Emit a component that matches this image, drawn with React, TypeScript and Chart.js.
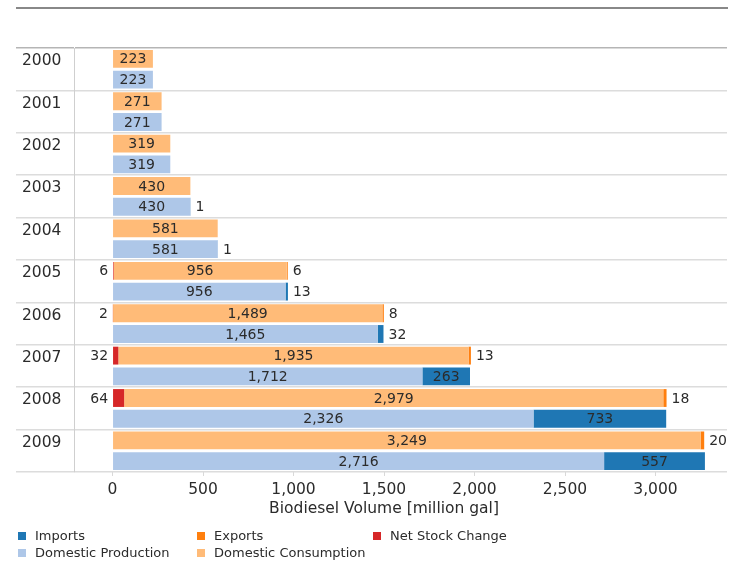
import React, { useEffect, useRef } from "react";
import { Chart, registerables } from "chart.js";

Chart.register(...registerables);

// ---- Data ----
const years = ["2000", "2001", "2002", "2003", "2004", "2005", "2006", "2007", "2008", "2009"];
const netStockChange = [null, null, null, null, null, 6, 2, 32, 64, null];
const domesticConsumption = [223, 271, 319, 430, 581, 956, 1489, 1935, 2979, 3249];
const exportsVol = [null, null, null, null, null, 6, 8, 13, 18, 20];
const domesticProduction = [223, 271, 319, 430, 581, 956, 1465, 1712, 2326, 2716];
const importsVol = [null, null, null, 1, 1, 13, 32, 263, 733, 557];
const xTickValues = [0, 500, 1000, 1500, 2000, 2500, 3000];
const xMin = -213;
const xMax = 3395;
const axisTitle = "Biodiesel Volume [million gal]";

const COLORS = {
  imports: "#1f77b4",
  exports: "#ff7f0e",
  net: "#d62728",
  production: "#aec7e8",
  consumption: "#ffbb78",
};

const legendRows = [
  [
    { label: "Imports", color: COLORS.imports },
    { label: "Exports", color: COLORS.exports },
    { label: "Net Stock Change", color: COLORS.net },
  ],
  [
    { label: "Domestic Production", color: COLORS.production },
    { label: "Domestic Consumption", color: COLORS.consumption },
  ],
];
const legendColX = [18, 197, 373];
const legendRowY = [532, 549];

const FONT = '"DejaVu Sans", Verdana, sans-serif';
const TEXT = "#2b2b2b";

const labelPlugin = {
  id: "barLabels",
  afterDatasetsDraw(chart: any) {
    const ctx = chart.ctx;
    ctx.save();
    ctx.font = `14px ${FONT}`;
    ctx.fillStyle = TEXT;
    ctx.textBaseline = "middle";
    chart.data.datasets.forEach((ds: any, di: number) => {
      const meta = chart.getDatasetMeta(di);
      meta.data.forEach((el: any, i: number) => {
        const v = ds.data[i];
        if (v == null || v === 0) return;
        const p = el.getProps(["x", "base", "y"], true);
        const left = Math.min(p.x, p.base);
        const right = Math.max(p.x, p.base);
        const txt = Number(v).toLocaleString("en-US");
        const w = ctx.measureText(txt).width;
        if (ds.labelMode === "left") {
          ctx.textAlign = "right";
          ctx.fillText(txt, left - 5, p.y + 1);
        } else if (right - left >= w + 6) {
          ctx.textAlign = "center";
          ctx.fillText(txt, (left + right) / 2, p.y + 1);
        } else {
          ctx.textAlign = "left";
          ctx.fillText(txt, right + 5, p.y + 1);
        }
      });
    });
    // axis title centred under the tick range
    const xs = chart.scales.x;
    const cx = (xs.getPixelForValue(xTickValues[0]) + xs.getPixelForValue(xTickValues[xTickValues.length - 1])) / 2;
    ctx.font = `15.5px ${FONT}`;
    ctx.textAlign = "center";
    ctx.fillText(axisTitle, cx, 509);
    ctx.restore();
  },
};

export default function App() {
  const canvasRef = useRef<HTMLCanvasElement | null>(null);

  useEffect(() => {
    if (!canvasRef.current) return;
    const chart = new Chart(canvasRef.current, {
      type: "bar",
      data: {
        labels: years,
        datasets: [
          { label: "Net Stock Change", data: netStockChange, backgroundColor: COLORS.net, stack: "use", labelMode: "left" } as any,
          { label: "Domestic Consumption", data: domesticConsumption, backgroundColor: COLORS.consumption, stack: "use" },
          { label: "Exports", data: exportsVol, backgroundColor: COLORS.exports, stack: "use" },
          { label: "Domestic Production", data: domesticProduction, backgroundColor: COLORS.production, stack: "supply" },
          { label: "Imports", data: importsVol, backgroundColor: COLORS.imports, stack: "supply" },
        ],
      },
      options: {
        indexAxis: "y",
        responsive: false,
        animation: false,
        layout: { padding: { left: 22, right: 14, top: 48, bottom: 41 } },
        datasets: {
          bar: { categoryPercentage: 0.98, barPercentage: 0.86, borderWidth: 0 },
        },
        plugins: {
          legend: { display: false },
          tooltip: { enabled: false },
          title: { display: false },
        },
        scales: {
          x: {
            type: "linear",
            stacked: true,
            min: xMin,
            max: xMax,
            afterBuildTicks(scale: any) {
              scale.ticks = xTickValues.map((v) => ({ value: v }));
            },
            afterFit(scale: any) {
              scale.height = 50;
            },
            grid: {
              drawOnChartArea: false,
              drawTicks: true,
              tickLength: 4,
              color: "#d9d9d9",
            },
            border: { display: false },
            ticks: {
              padding: 5,
              color: TEXT,
              font: { family: FONT, size: 15.5 },
              maxRotation: 0,
              callback: (v: any) => Number(v).toLocaleString("en-US"),
            },
          },
          y: {
            type: "category",
            stacked: true,
            afterFit(scale: any) {
              scale.width = 52;
            },
            grid: {
              offset: true,
              drawTicks: true,
              tickLength: 58,
              color: (c: any) => (c.index === 0 ? "#b5b5b5" : "#dcdcdc"),
              lineWidth: 1.5,
            },
            border: { display: true, color: "#cfcfcf", width: 1 },
            ticks: {
              crossAlign: "far",
              labelOffset: -8,
              color: TEXT,
              font: { family: FONT, size: 15.5 },
            },
          },
        },
      } as any,
      plugins: [labelPlugin],
    });
    return () => chart.destroy();
  }, []);

  return (
    <div style={{ position: "fixed", left: 0, top: 0, width: 741, height: 563, background: "#fff", fontFamily: FONT }}>
      <div style={{ position: "absolute", left: 16, top: 7, width: 712, height: 2, background: "#888" }} />
      <canvas ref={canvasRef} width={741} height={563} style={{ position: "absolute", left: 0, top: 0 }} />
      {legendRows.map((row, ri) =>
        row.map((item, ci) => (
          <div
            key={item.label}
            style={{
              position: "absolute",
              left: legendColX[ci],
              top: legendRowY[ri] - 5,
              height: 17,
              display: "flex",
              alignItems: "center",
              fontSize: 13,
              color: TEXT,
              whiteSpace: "nowrap",
            }}
          >
            <span style={{ display: "inline-block", width: 8, height: 8, background: item.color, marginRight: 9 }} />
            <span>{item.label}</span>
          </div>
        ))
      )}
    </div>
  );
}
